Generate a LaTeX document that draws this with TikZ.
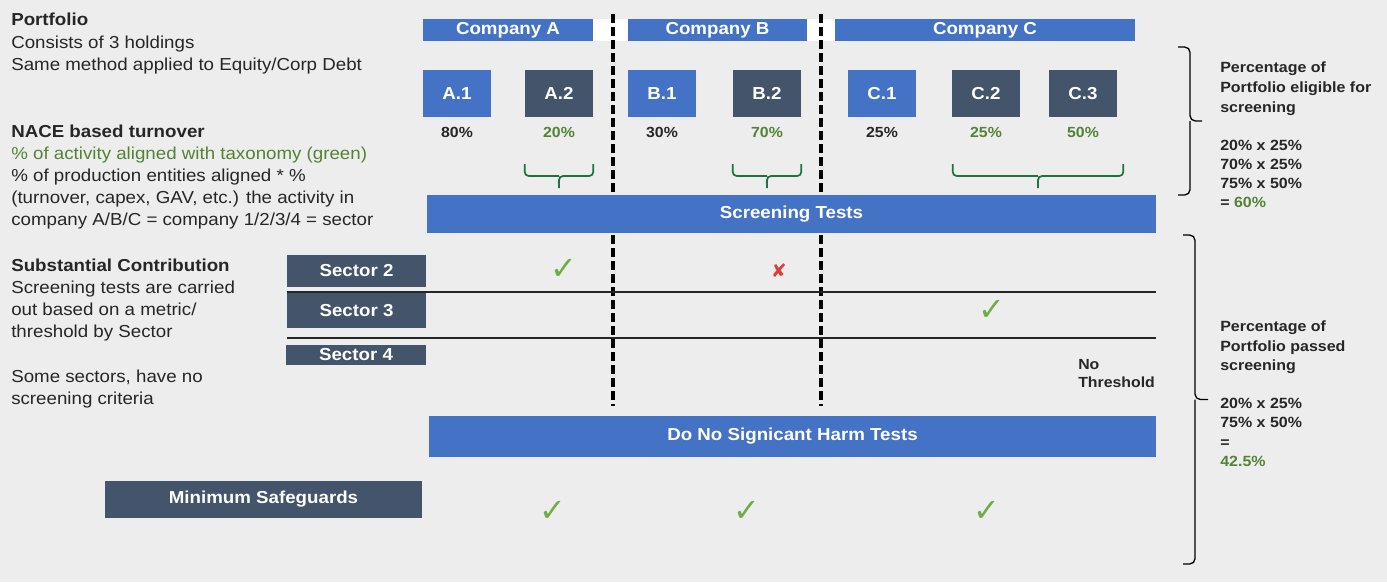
\documentclass[tikz,border=0pt]{standalone}
\usepackage{fontspec}
\setmainfont[FakeStretch=1.08]{Liberation Sans}
\newfontfamily\symfont{DejaVu Sans}
\usetikzlibrary{calc}
\definecolor{bgC}{HTML}{EDEDED}
\definecolor{blueC}{HTML}{4472C4}
\definecolor{slateC}{HTML}{44546A}
\definecolor{txtC}{HTML}{262626}
\definecolor{greenT}{HTML}{548235}
\definecolor{tickC}{HTML}{70AD47}
\definecolor{braceC}{HTML}{1E7145}
\definecolor{crossC}{HTML}{E03C3C}
\begin{document}
\begin{tikzpicture}[x=0.75pt,y=-0.75pt,line join=round,
	every node/.style={inner sep=0pt,text=txtC},
	lbl/.style={font=\fontsize{13}{15}\selectfont\bfseries,text=white},
	bar/.style={lbl,fill=blueC},
	dbar/.style={lbl,fill=slateC},
	note/.style={font=\fontsize{13}{15}\selectfont,anchor=base west},
	head/.style={note,font=\fontsize{13}{15}\selectfont\bfseries},
	gnote/.style={note,text=greenT},
	side/.style={font=\fontsize{11.1}{13}\selectfont\bfseries,anchor=base west},
	pct/.style={font=\fontsize{11}{13}\selectfont\bfseries,anchor=base},
	tick/.style={font=\symfont\fontsize{24}{24}\selectfont,text=tickC},
	gbrace/.style={draw=braceC,line width=1.3pt,rounded corners=3pt},
	kbrace/.style={draw=black,line width=1pt,rounded corners=4pt},
	divider/.style={line width=2.4pt,dash pattern=on 6.75pt off 3pt}]
	\fill[bgC] (0,0) rectangle (1387,582);
	% companies
	\node[bar,minimum width=127.5pt,minimum height=16.5pt] (compA) at (508,30) {Company A};
	\node[bar,minimum width=134.25pt,minimum height=16.5pt] (compB) at (717.5,30) {Company B};
	\node[bar,minimum width=225pt,minimum height=16.5pt] (compC) at (985,30) {Company C};
	\fill[white] (compA.north east) rectangle (compB.south west);
	\fill[white] (compB.north east) rectangle (compC.south west);
	\draw[divider] (613,14)--(613,406);
	\draw[divider] (821,14)--(821,406);
	\foreach \n/\t/\x/\c/\p/\pc in {a1/A.1/457/blueC/80/txtC,a2/A.2/559/slateC/20/greenT,b1/B.1/662/blueC/30/txtC,b2/B.2/767/slateC/70/greenT,c1/C.1/882/blueC/25/txtC,c2/C.2/986/slateC/25/greenT,c3/C.3/1083/slateC/50/greenT}{
		\node[lbl,fill=\c,minimum width=51pt,minimum height=35.25pt] (\n) at (\x,93.5) {\t};
		\node[pct,text=\pc] (p\n) at (\x,137) {\p\%};}
	% green braces
	\draw[gbrace] (a2.east|-0,164)|-(a2|-0,176)--(a2|-0,188) (a2.west|-0,164)|-(a2|-0,176);
	\draw[gbrace] (b2.east|-0,164)|-(b2|-0,176)--(b2|-0,188) (b2.west|-0,164)|-(b2|-0,176);
	\coordinate (cbE) at ($(c3.east|-0,164)+(6,0)$);
	\coordinate (cbW) at ($(c2.west|-0,164)+(1,0)$);
	\coordinate (cbM) at ($(cbE)!.5!(cbW)$);
	\draw[gbrace] (cbE)|-($(cbM)+(0,12)$)--($(cbM)+(0,24)$) (cbW)|-($(cbM)+(0,12)$);
	\node[bar,minimum width=546.75pt,minimum height=28.5pt] (screen) at (791.5,214) {Screening Tests};
	% sectors
	\node[dbar,minimum width=104.25pt,minimum height=24pt] (sec2) at (356.5,271) {Sector 2};
	\node[dbar,minimum width=104.25pt,minimum height=26.25pt] (sec3) at (356.5,310.5) {Sector 3};
	\node[dbar,minimum width=105pt,minimum height=15pt] (sec4) at (356,355) {Sector 4};
	\draw[line width=1.3pt,black!85] (sec3.north west|-0,292)--(screen.east|-0,292);
	\draw[line width=1.3pt,black!85] (sec3.south west|-0,338)--(screen.east|-0,338);
	\node[tick] (ok2) at (564,269) {✓};
	\node[font=\symfont\fontsize{14}{14}\selectfont,text=crossC] (no2) at (779,271) {✘};
	\node[tick] (ok3) at (992,310) {✓};
	\node[side,font=\fontsize{11}{13}\selectfont\bfseries] (nothr) at (1078,369.3) {No};
	\node[side,font=\fontsize{11}{13}\selectfont\bfseries] (nothr2) at (1078,387.7) {Threshold};
	\node[bar,minimum width=545.25pt,minimum height=30.75pt] (dnsh) at (792.5,436.5) {Do No Signicant Harm Tests};
	\node[dbar,minimum width=237.75pt,minimum height=27.75pt] (minsg) at (263.5,499.5) {Minimum Safeguards};
	\foreach \x [count=\i] in {553,747,987}\node[tick] (ms\i) at (\x,511) {✓};
	% left notes
	\foreach \y/\s/\t [count=\i] in {25/head/Portfolio,48/note/{Consists of 3 holdings},70/note/{Same method applied to Equity/Corp Debt},
		137/head/{NACE based turnover},159/gnote/{\% of activity aligned with taxonomy (green)},181/note/{\% of production entities aligned * \%},
		203/note/{(turnover, capex, GAV, etc.) the activity in},225/note/{company A/B/C = company 1/2/3/4 = sector},
		271/head/{Substantial Contribution},293/note/{Screening tests are carried},315/note/{out based on a metric/},337/note/{threshold by Sector},
		382/note/{Some sectors, have no},404/note/{screening criteria}}
		\node[\s] (left\i) at (11,\y) {\t};
	% right notes
	\draw[kbrace] (1178,47)-|(1190,121)--(1202,121) (1178,195)-|(1190,121);
	\draw[kbrace] (1183,235)-|(1195,399.5)--(1208,399.5) (1183,564)-|(1195,399.5);
	\foreach \y/\t [count=\i] in {72.3/{Percentage of},92.3/{Portfolio eligible for},112.3/screening,150/{20\% x 25\%},169.3/{70\% x 25\%},188.7/{75\% x 50\%},207.7/{= \textcolor{greenT}{60\%}},
		331.7/{Percentage of},351/{Portfolio passed},370/screening,408.3/{20\% x 25\%},427.7/{75\% x 50\%},447/{=},466/{\textcolor{greenT}{42.5\%}}}
		\node[side] (right\i) at (1220,\y) {\t};
\end{tikzpicture}
\end{document}
